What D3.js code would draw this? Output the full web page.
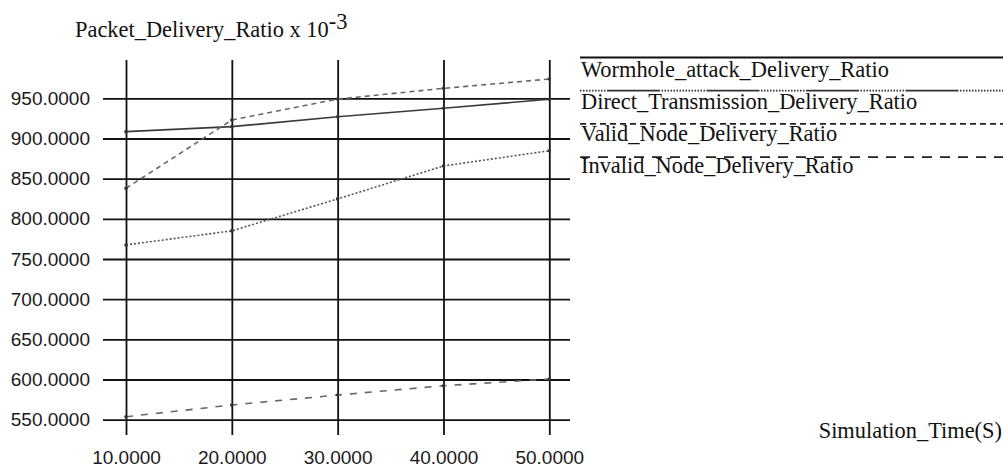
<!DOCTYPE html>
<html>
<head>
    <meta charset="utf-8">
    <script src="https://d3js.org/d3.v7.min.js"></script>
    <style type="text/css">
        body { margin: 0; background: #fff; }
        .serif { font-family: "Liberation Serif", "Times New Roman", serif; font-size: 22.4px; fill: #111; }
        .tick text { font-family: "Liberation Sans", Arial, sans-serif; font-size: 19px; fill: #1a1a1a; }
        .grid line { stroke: #111; stroke-width: 1.8; }
    </style>
</head>
<body>
<div id="chart"></div>
<script>
    // values
    const times = [10, 20, 30, 40, 50];
    const yTicks = [550, 600, 650, 700, 750, 800, 850, 900, 950];
    const wormhole = [908.5, 914.7, 927, 937.6, 948.8];
    const direct = [767.5, 785, 824.8, 865.8, 884.7];
    const valid = [838, 923, 949, 962.4, 974];
    const invalid = [553.7, 568.3, 580.7, 592.3, 600.6];
    const names = ["Wormhole_attack_Delivery_Ratio", "Direct_Transmission_Delivery_Ratio",
        "Valid_Node_Delivery_Ratio", "Invalid_Node_Delivery_Ratio"];

    const W = 1003, H = 468;
    const svg = d3.select("#chart").append("svg")
        .attr("width", W).attr("height", H);

    const x = d3.scaleLinear().domain([10, 50]).range([126, 549.3]);
    const y = d3.scaleLinear().domain([550, 950]).range([419.7, 98.3]);

    const gridTop = 60, gridBottom = 435, gridLeft = 103, gridRight = 570;

    // vertical grid + x labels
    svg.append("g")
        .attr("class", "grid")
        .attr("transform", `translate(0,${gridBottom})`)
        .call(d3.axisBottom(x).tickValues(times)
            .tickSize(-(gridBottom - gridTop))
            .tickPadding(16)
            .tickFormat(d3.format(".4f")))
        .call(g => g.select(".domain").remove());

    // horizontal grid + y labels
    svg.append("g")
        .attr("class", "grid")
        .attr("transform", `translate(${gridRight},0)`)
        .call(d3.axisLeft(y).tickValues(yTicks)
            .tickSize(gridRight - gridLeft)
            .tickPadding(13)
            .tickFormat(d3.format(".4f")))
        .call(g => g.select(".domain").remove());

    // dots then a solid run, like the legend sample of the second series
    const dotRun = d3.range(15).map(() => "1.5,1.5").join(",") + ",53,1.5";

    const series = [
        { vals: wormhole, color: "#3a3a3a", dash: null, legendDash: null, legendColor: "#111", offset: 0 },
        { vals: direct, color: "#555", dash: "2,2", legendDash: dotRun, legendColor: "#333", offset: 18 },
        { vals: valid, color: "#666", dash: "5,4", legendDash: "6,4", legendColor: "#222", offset: 0 },
        { vals: invalid, color: "#666", dash: "7,8", legendDash: "10,8", legendColor: "#222", offset: 0 }
    ];

    const line = d3.line()
        .x((d, i) => x(times[i]))
        .y(d => y(d));

    series.forEach(s => {
        svg.append("path")
            .datum(s.vals)
            .attr("fill", "none")
            .attr("stroke", s.color)
            .attr("stroke-width", 1.6)
            .attr("stroke-dasharray", s.dash)
            .attr("d", line);
        svg.append("g").selectAll("circle")
            .data(s.vals)
            .join("circle")
            .attr("cx", (d, i) => x(times[i]))
            .attr("cy", d => y(d))
            .attr("r", 1.8)
            .attr("fill", "#333");
    });

    // title
    const title = svg.append("text")
        .attr("class", "serif")
        .attr("x", 75)
        .attr("y", 37)
        .text("Packet_Delivery_Ratio x 10");
    title.append("tspan")
        .attr("dy", -8)
        .text("-3");

    // x axis name
    svg.append("text")
        .attr("class", "serif")
        .attr("text-anchor", "end")
        .attr("x", 1002)
        .attr("y", 438)
        .text("Simulation_Time(S)");

    // legend
    const legend = svg.append("g");
    series.forEach((s, i) => {
        legend.append("line")
            .attr("x1", 580).attr("x2", W)
            .attr("y1", 57.5 + i * 33.2).attr("y2", 57.5 + i * 33.2)
            .attr("stroke", s.legendColor)
            .attr("stroke-width", 1.8)
            .attr("stroke-dasharray", s.legendDash)
            .attr("stroke-dashoffset", s.offset);
        legend.append("text")
            .attr("class", "serif")
            .attr("x", 581)
            .attr("y", 77 + i * 32)
            .text(names[i]);
    });
</script>
</body>
</html>
